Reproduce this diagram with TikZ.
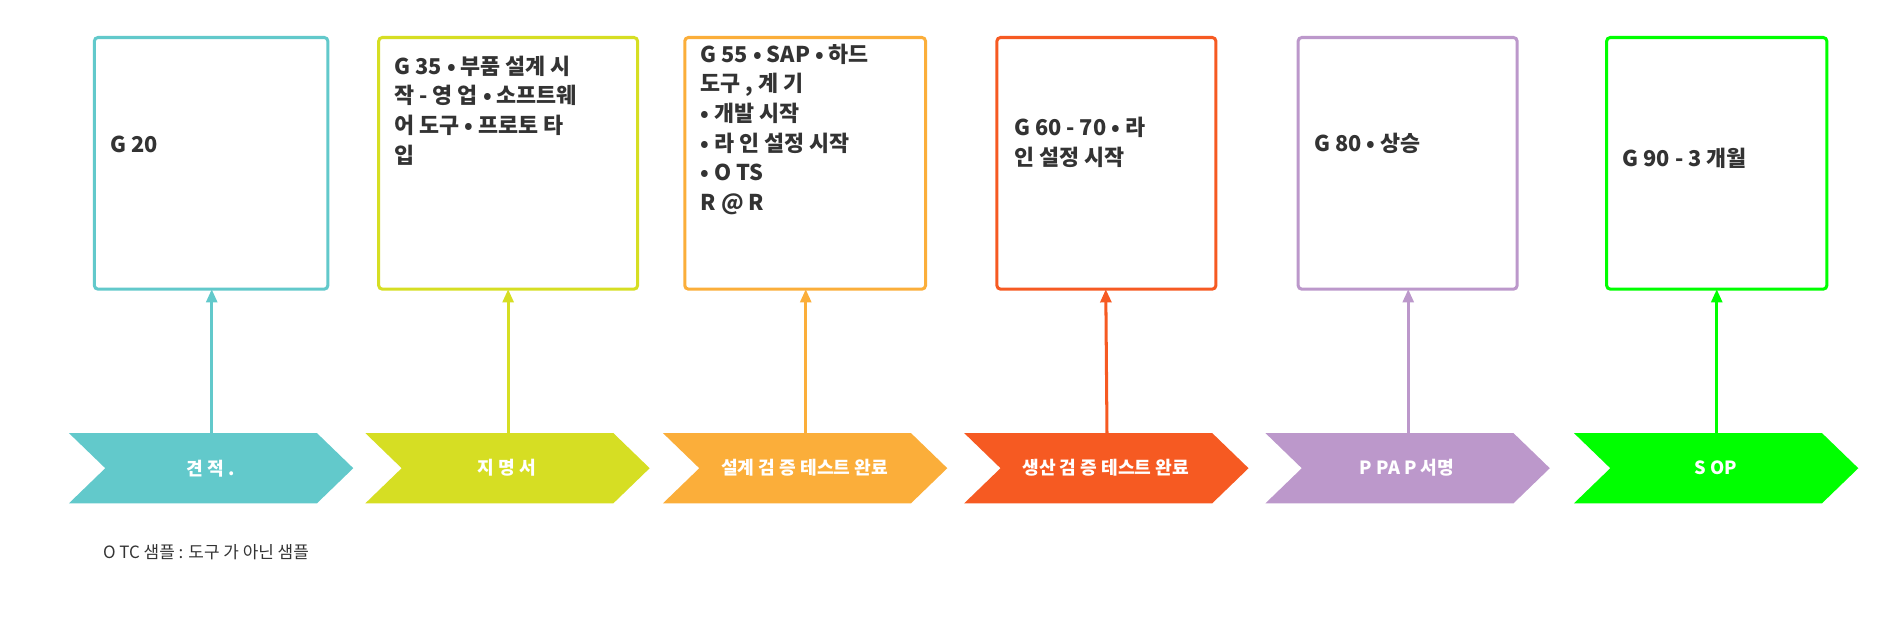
\documentclass[tikz,border=0pt]{standalone}
\usepackage{fontspec}
\setmainfont{Noto Sans CJK KR}
\usetikzlibrary{shapes.symbols,arrows.meta}
\definecolor{c1}{HTML}{62C9CB}\definecolor{c2}{HTML}{D6DE23}\definecolor{c3}{HTML}{FBAE3A}
\definecolor{c4}{HTML}{F65A22}\definecolor{c5}{HTML}{BC98CB}\definecolor{c6}{HTML}{00FF00}
\definecolor{txt}{HTML}{333333}
\begin{document}
\begin{tikzpicture}[x=1pt,y=-1pt,
 box/.style={draw=#1,line width=2.5pt,rounded corners=3pt,fill=white},
 btxt/.style={anchor=north west,align=left,font=\fontsize{18}{24.5}\selectfont\bfseries,text=txt,inner sep=0pt},
 ctxt/.style={font=\fontsize{15}{16}\selectfont\bfseries,text=white},
 conn/.style={draw=#1,line width=2.5pt,-{Triangle[length=11pt,width=9pt]}}]
\useasboundingbox (0,0) rectangle (1568,513);
\def\chevron#1#2#3#4{% name, left x, color, text
 \fill[#3] (#2,358) -- (#2+205,358) -- (#2+235,387) -- (#2+205,416) -- (#2,416) -- (#2+30,387) -- cycle;
 \node[ctxt] (#1) at (#2+117,387) {#4};
 \coordinate (#1t) at (#2+118,358);}
\chevron{a}{57}{c1}{견 적 .}
\chevron{b}{302}{c2}{지 명 서}
\chevron{c}{548}{c3}{설계 검 증 테스트 완료}
\chevron{d}{797}{c4}{생산 검 증 테스트 완료}
\chevron{e}{1046}{c5}{P PA P 서명}
\chevron{f}{1301}{c6}{S OP}
\draw[box=c1] (78,31) rectangle (271,239); \coordinate (A) at (175,239);
\draw[box=c2] (313,31) rectangle (527,239); \coordinate (B) at (420,239);
\draw[box=c3] (566,31) rectangle (765,239); \coordinate (C) at (666,239);
\draw[box=c4] (824,31) rectangle (1005,239); \coordinate (D) at (914,239);
\draw[box=c5] (1073,31) rectangle (1254,239); \coordinate (E) at (1164,239);
\draw[box=c6] (1328,31) rectangle (1510,239); \coordinate (F) at (1419,239);
\node[btxt] (t1) at (91,112) {G 20};
\node[btxt] (t2) at (326,46) {G 35 • 부품 설계 시\\작 - 영 업 • 소프트웨\\어 도구 • 프로토 타\\입};
\node[btxt] (t3) at (579,36) {G 55 • SAP • 하드\\도구 , 계 기\\• 개발 시작\\• 라 인 설정 시작\\• O TS\\R @ R};
\node[btxt] (t4) at (838,97) {G 60 - 70 • 라\\인 설정 시작};
\node[btxt] (t5) at (1086,110) {G 80 • 상승};
\node[btxt] (t6) at (1341,122) {G 90 - 3 개월};
\draw[conn=c1] (at) -- (A);
\draw[conn=c2] (bt) -- (B);
\draw[conn=c3] (ct) -- (C);
\draw[conn=c4] (dt) -- (D);
\draw[conn=c5] (et) -- (E);
\draw[conn=c6] (ft) -- (F);
\node[anchor=west,font=\fontsize{14}{16}\selectfont,text=txt,inner sep=0pt] (note) at (85,456) {O TC 샘플 : 도구 가 아닌 샘플};
\end{tikzpicture}
\end{document}
